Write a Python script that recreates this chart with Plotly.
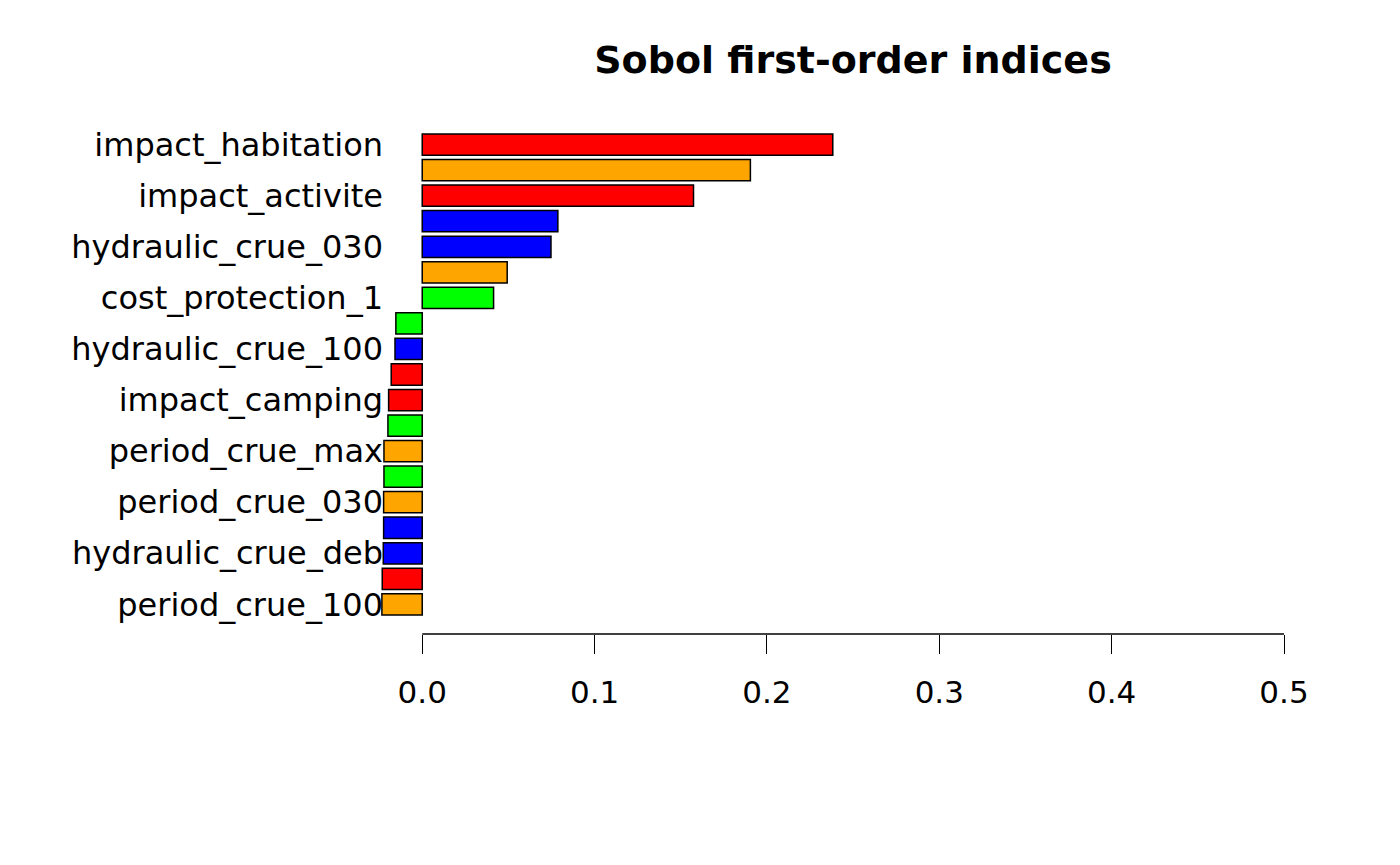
import plotly.graph_objects as go

# Sobol first-order indices (bars from top to bottom)
sobol_values = [0.2382, 0.1904, 0.1574, 0.0787, 0.0747, 0.0493, 0.0414,
                -0.0153, -0.0158, -0.0180, -0.0195, -0.0199, -0.0222, -0.0222,
                -0.0224, -0.0224, -0.0226, -0.0232, -0.0234]
bar_colors = ["red", "orange", "red", "blue", "blue", "orange", "#00ff00",
              "#00ff00", "blue", "red", "red", "#00ff00", "orange", "#00ff00",
              "orange", "blue", "blue", "red", "orange"]
# only every other bar label is visible in the original chart
visible_labels = ["impact_habitation", "impact_activite", "hydraulic_crue_030",
                  "cost_protection_1", "hydraulic_crue_100", "impact_camping",
                  "period_crue_max", "period_crue_030", "hydraulic_crue_deb",
                  "period_crue_100"]
x_ticks = [0.0, 0.1, 0.2, 0.3, 0.4, 0.5]
x_ticktext = ["0.0", "0.1", "0.2", "0.3", "0.4", "0.5"]

bar_pos = list(range(1, len(sobol_values) + 1))
label_pos = bar_pos[::2]

FONT = "DejaVu Sans"
OFF = 8  # page body margin offset

fig = go.Figure(go.Bar(
    x=sobol_values, y=bar_pos, orientation="h",
    marker=dict(color=bar_colors, line=dict(color="black", width=1.5)),
    hoverinfo="x",
))

fig.update_layout(
    width=1400, height=865,
    paper_bgcolor="white", plot_bgcolor="white",
    margin=dict(l=380 - OFF, r=116 + OFF, t=120 - OFF, b=231 + OFF),
    bargap=0.2 / 1.2,
    showlegend=False,
    font=dict(family=FONT, color="black", size=31),
    title=dict(text="<b>Sobol first-order indices</b>", x=(853 - 380) / 904, xref="paper",
               xanchor="center", y=1 - (60 - OFF) / 865, yanchor="middle",
               font=dict(family=FONT, size=38, color="black")),
)
fig.update_xaxes(range=[-0.0245, 0.5], tickvals=x_ticks, ticktext=x_ticktext,
                 ticks="outside", ticklen=19, tickwidth=1.3, tickcolor="black",
                 showline=False, showgrid=False, zeroline=False,
                 ticklabelstandoff=12, tickfont=dict(family=FONT, size=31))
fig.update_yaxes(range=[20.16, 0.037], tickvals=label_pos, ticktext=visible_labels,
                 ticks="", showline=False, showgrid=False, zeroline=False,
                 ticklabelstandoff=-4, tickfont=dict(family=FONT, size=32))
fig.add_shape(type="line", xref="x", yref="paper", x0=0, x1=0.5, y0=0, y1=0,
              line=dict(color="black", width=1.3))

fig.write_html("out.html")
